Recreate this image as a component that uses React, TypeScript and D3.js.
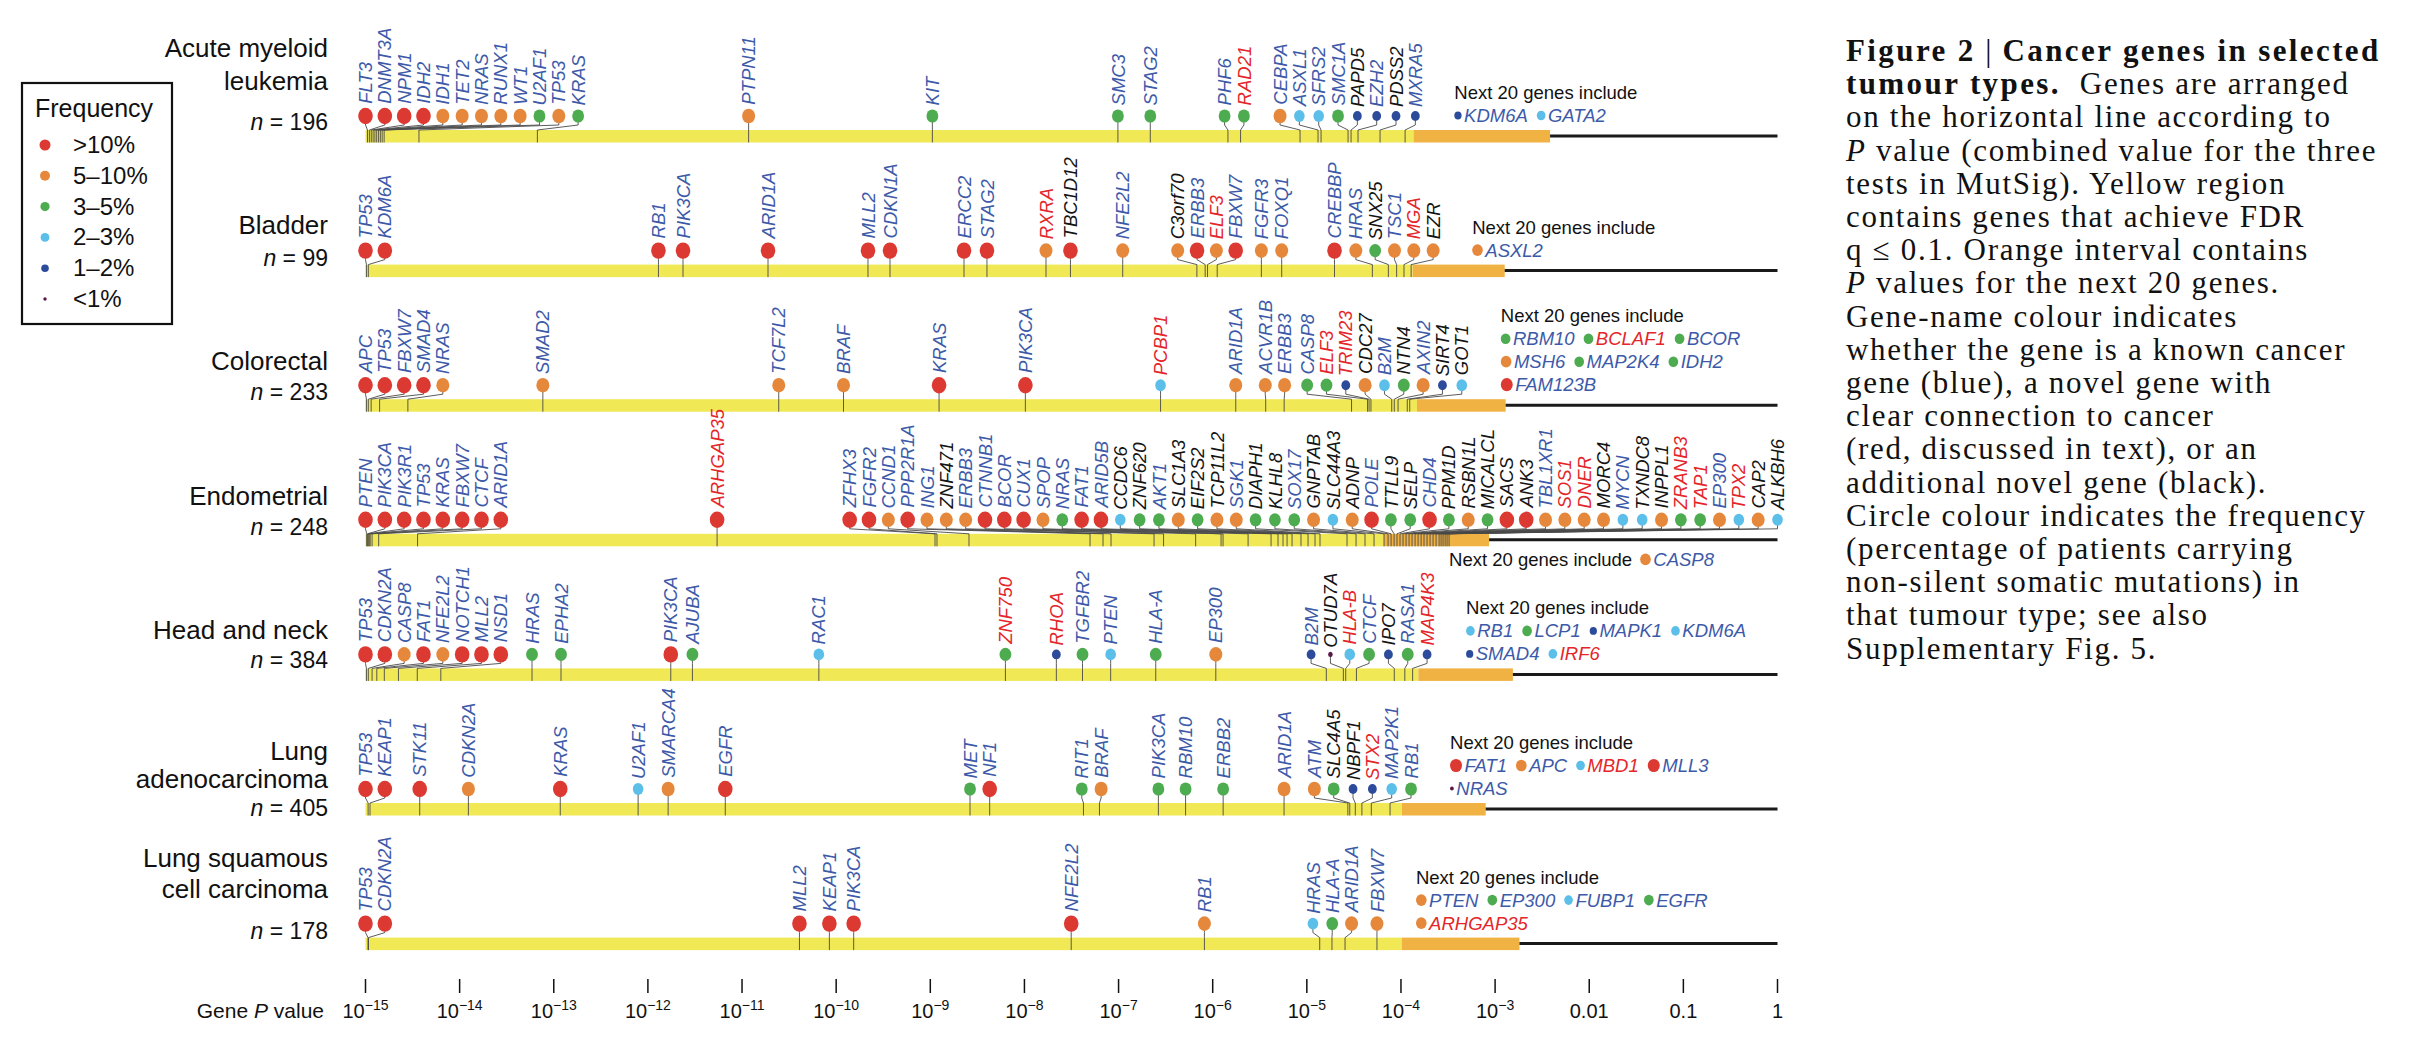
import React from "react";
import * as d3 from "d3";

// ---------------- DATA ----------------
// gene: [name, log10 P, frequency class, name colour]
// frequency class: 5 >10%, 4 5–10%, 3 3–5%, 2 2–3%, 1 1–2%, 0 <1%
// name colour: b known cancer gene, r novel (discussed), k additional novel
type Gene = [string, number, number, string];
type Extra = [string, number, string];

const amlGenes: Gene[] = [
  ["FLT3", -14.979, 5, "b"], ["DNMT3A", -14.959, 5, "b"], ["NPM1", -14.939, 5, "b"],
  ["IDH2", -14.919, 5, "b"], ["IDH1", -14.9, 4, "b"], ["TET2", -14.881, 4, "b"],
  ["NRAS", -14.861, 4, "b"], ["RUNX1", -14.842, 4, "b"], ["WT1", -14.823, 4, "b"],
  ["U2AF1", -14.802, 3, "b"], ["TP53", -14.432, 4, "b"], ["KRAS", -13.174, 3, "b"],
  ["PTPN11", -10.93, 4, "b"], ["KIT", -8.978, 3, "b"], ["SMC3", -7.007, 3, "b"],
  ["STAG2", -6.663, 3, "b"], ["PHF6", -5.838, 3, "b"], ["RAD21", -5.704, 3, "r"],
  ["CEBPA", -5.072, 4, "b"], ["ASXL1", -4.881, 2, "b"], ["SFRS2", -4.849, 2, "b"],
  ["SMC1A", -4.562, 3, "b"], ["PAPD5", -4.53, 1, "k"], ["EZH2", -4.456, 1, "b"],
  ["PDSS2", -4.222, 1, "k"], ["MXRA5", -3.956, 1, "b"],
];

const bladderGenes: Gene[] = [
  ["TP53", -14.99, 5, "b"], ["KDM6A", -14.97, 5, "b"], ["RB1", -11.888, 5, "b"],
  ["PIK3CA", -11.627, 5, "b"], ["ARID1A", -10.724, 5, "b"], ["MLL2", -9.662, 5, "b"],
  ["CDKN1A", -9.428, 5, "b"], ["ERCC2", -8.642, 5, "b"], ["STAG2", -8.398, 5, "b"],
  ["RXRA", -7.771, 4, "r"], ["TBC1D12", -7.511, 5, "k"], ["NFE2L2", -6.956, 4, "b"],
  ["C3orf70", -6.168, 4, "k"], ["ERBB3", -6.08, 5, "b"], ["ELF3", -6.055, 4, "r"],
  ["FBXW7", -5.952, 5, "b"], ["FGFR3", -5.483, 4, "b"], ["FOXQ1", -5.267, 4, "b"],
  ["CREBBP", -4.706, 5, "b"], ["HRAS", -4.304, 4, "b"], ["SNX25", -4.134, 3, "k"],
  ["TSC1", -4.046, 4, "b"], ["MGA", -3.968, 4, "r"], ["EZR", -3.892, 4, "k"],
];

const colorectalGenes: Gene[] = [
  ["APC", -14.99, 5, "b"], ["TP53", -14.97, 5, "b"], ["FBXW7", -14.94, 5, "b"],
  ["SMAD4", -14.85, 5, "b"], ["NRAS", -14.55, 4, "b"], ["SMAD2", -13.116, 4, "b"],
  ["TCF7L2", -10.61, 4, "b"], ["BRAF", -9.922, 4, "b"], ["KRAS", -8.907, 5, "b"],
  ["PIK3CA", -7.99, 5, "b"], ["PCBP1", -6.554, 2, "r"], ["ARID1A", -5.755, 4, "b"],
  ["ACVR1B", -5.437, 4, "b"], ["ERBB3", -5.241, 4, "b"], ["CASP8", -4.525, 3, "b"],
  ["ELF3", -4.355, 3, "r"], ["TRIM23", -4.339, 1, "r"], ["CDC27", -4.319, 4, "k"],
  ["B2M", -4.098, 2, "b"], ["NTN4", -4.071, 3, "k"], ["AXIN2", -4.031, 4, "b"],
  ["SIRT4", -3.933, 1, "k"], ["GOT1", -3.907, 2, "k"],
];

const endometrialGenes: Gene[] = [
  ["PTEN", -14.987, 5, "b"], ["PIK3CA", -14.98, 5, "b"], ["PIK3R1", -14.97, 5, "b"],
  ["TP53", -14.96, 5, "b"], ["KRAS", -14.95, 5, "b"], ["FBXW7", -14.93, 5, "b"],
  ["CTCF", -14.86, 5, "b"], ["ARID1A", -14.447, 5, "b"], ["ARHGAP35", -11.265, 5, "r"],
  ["ZFHX3", -8.95, 5, "b"], ["FGFR2", -8.929, 5, "b"], ["CCND1", -8.589, 4, "b"],
  ["PPP2R1A", -7.303, 5, "b"], ["ING1", -7.165, 4, "b"], ["ZNF471", -7.08, 4, "k"],
  ["ERBB3", -6.623, 4, "b"], ["CTNNB1", -6.522, 5, "b"], ["BCOR", -6.181, 5, "b"],
  ["CUX1", -5.911, 5, "b"], ["SPOP", -5.89, 4, "b"], ["NRAS", -5.624, 3, "b"],
  ["FAT1", -5.38, 5, "b"], ["ARID5B", -5.306, 5, "b"], ["CCDC6", -5.253, 2, "k"],
  ["ZNF620", -5.21, 3, "k"], ["AKT1", -5.157, 3, "b"], ["SLC1A3", -5.062, 4, "k"],
  ["EIF2S2", -4.987, 3, "k"], ["TCP11L2", -4.913, 4, "k"], ["SGK1", -4.86, 4, "b"],
  ["DIAPH1", -4.573, 3, "k"], ["KLHL8", -4.477, 3, "k"], ["SOX17", -4.382, 3, "b"],
  ["GNPTAB", -4.286, 4, "k"], ["SLC44A3", -4.18, 2, "k"], ["ADNP", -4.137, 4, "k"],
  ["POLE", -4.105, 5, "b"], ["TTLL9", -4.073, 3, "k"], ["SELP", -4.042, 3, "k"],
  ["CHD4", -4.01, 5, "b"], ["PPM1D", -3.978, 3, "k"], ["RSBN1L", -3.946, 4, "k"],
  ["MICALCL", -3.914, 3, "k"], ["SACS", -3.882, 5, "k"], ["ANK3", -3.85, 5, "k"],
  ["TBL1XR1", -3.818, 4, "b"], ["SOS1", -3.786, 4, "r"], ["DNER", -3.755, 4, "r"],
  ["MORC4", -3.723, 4, "k"], ["MYCN", -3.691, 2, "b"], ["TXNDC8", -3.659, 2, "k"],
  ["INPPL1", -3.627, 4, "k"], ["ZRANB3", -3.595, 3, "r"], ["TAP1", -3.574, 3, "r"],
  ["EP300", -3.553, 4, "b"], ["TPX2", -3.531, 2, "r"], ["CAP2", -3.51, 4, "k"],
  ["ALKBH6", -3.489, 2, "k"],
];

const headNeckGenes: Gene[] = [
  ["TP53", -14.99, 5, "b"], ["CDKN2A", -14.97, 5, "b"], ["CASP8", -14.93, 4, "b"],
  ["FAT1", -14.88, 5, "b"], ["NFE2L2", -14.8, 4, "b"], ["NOTCH1", -14.65, 5, "b"],
  ["MLL2", -14.45, 5, "b"], ["NSD1", -14.2, 5, "b"], ["HRAS", -13.231, 3, "b"],
  ["EPHA2", -12.923, 3, "b"], ["PIK3CA", -11.757, 5, "b"], ["AJUBA", -11.527, 3, "b"],
  ["RAC1", -10.184, 2, "b"], ["ZNF750", -8.202, 3, "r"], ["RHOA", -7.661, 1, "r"],
  ["TGFBR2", -7.383, 3, "b"], ["PTEN", -7.084, 2, "b"], ["HLA-A", -6.605, 3, "b"],
  ["EP300", -5.967, 4, "b"], ["B2M", -4.793, 1, "b"], ["OTUD7A", -4.612, 0, "k"],
  ["HLA-B", -4.587, 2, "r"], ["CTCF", -4.473, 3, "b"], ["IPO7", -4.071, 1, "k"],
  ["RASA1", -3.959, 3, "b"], ["MAP4K3", -3.876, 1, "r"],
];

const lungAdenoGenes: Gene[] = [
  ["TP53", -14.972, 5, "b"], ["KEAP1", -14.952, 5, "b"], ["STK11", -14.424, 5, "b"],
  ["CDKN2A", -13.907, 4, "b"], ["KRAS", -12.931, 5, "b"], ["U2AF1", -12.104, 2, "b"],
  ["SMARCA4", -11.785, 4, "b"], ["EGFR", -11.178, 5, "b"], ["MET", -8.578, 3, "b"],
  ["NF1", -8.369, 5, "b"], ["RIT1", -7.373, 3, "b"], ["BRAF", -7.203, 4, "b"],
  ["PIK3CA", -6.577, 3, "b"], ["RBM10", -6.288, 3, "b"], ["ERBB2", -5.889, 3, "b"],
  ["ARID1A", -5.242, 4, "b"], ["ATM", -4.564, 4, "b"], ["SLC4A5", -4.544, 3, "k"],
  ["NBPF1", -4.485, 1, "k"], ["STX2", -4.415, 1, "r"], ["MAP2K1", -4.315, 2, "b"],
  ["RB1", -4.116, 3, "b"],
];

const lungSquamousGenes: Gene[] = [
  ["TP53", -14.973, 5, "b"], ["CDKN2A", -14.968, 5, "b"], ["MLL2", -10.39, 5, "b"],
  ["KEAP1", -10.072, 5, "b"], ["PIK3CA", -9.814, 5, "b"], ["NFE2L2", -7.503, 5, "b"],
  ["RB1", -6.088, 4, "b"], ["HRAS", -4.863, 2, "b"], ["HLA-A", -4.733, 3, "b"],
  ["ARID1A", -4.594, 4, "b"], ["FBXW7", -4.255, 4, "b"],
];

const tumourNames: string[][] = [
  ["Acute myeloid", "leukemia"], ["Bladder"], ["Colorectal"], ["Endometrial"],
  ["Head and neck"], ["Lung", "adenocarcinoma"], ["Lung squamous", "cell carcinoma"],
];
const tumourN = [196, 99, 233, 248, 384, 405, 178];
const fdrLogP = [-3.866, -3.876, -3.83, -4.18, -3.815, -3.989, -3.989];
const next20LogP = [-2.416, -2.898, -2.888, -3.064, -2.811, -3.1, -2.741];

const amlNext: Extra[][] = [[["KDM6A", 1, "b"], ["GATA2", 2, "b"]]];
const bladderNext: Extra[][] = [[["ASXL2", 4, "b"]]];
const colorectalNext: Extra[][] = [
  [["RBM10", 3, "b"], ["BCLAF1", 3, "r"], ["BCOR", 3, "b"]],
  [["MSH6", 4, "b"], ["MAP2K4", 3, "b"], ["IDH2", 3, "b"]],
  [["FAM123B", 5, "b"]],
];
const endometrialNext: Extra[][] = [[["CASP8", 4, "b"]]];
const headNeckNext: Extra[][] = [
  [["RB1", 2, "b"], ["LCP1", 3, "b"], ["MAPK1", 1, "b"], ["KDM6A", 2, "b"]],
  [["SMAD4", 1, "b"], ["IRF6", 2, "r"]],
];
const lungAdenoNext: Extra[][] = [
  [["FAT1", 5, "b"], ["APC", 4, "b"], ["MBD1", 2, "r"], ["MLL3", 5, "b"]],
  [["NRAS", 0, "b"]],
];
const lungSquamousNext: Extra[][] = [
  [["PTEN", 4, "b"], ["EP300", 3, "b"], ["FUBP1", 2, "b"], ["EGFR", 3, "b"]],
  [["ARHGAP35", 4, "r"]],
];

const legendLabels = [">10%", "5–10%", "3–5%", "2–3%", "1–2%", "<1%"];
const legendClasses = [5, 4, 3, 2, 1, 0];
const tickExponents = d3.range(-15, 1);

const captionLines: [string, string][][] = [
  [["Figure 2", "b"], [" | ", "n"], ["Cancer genes in selected", "b"]],
  [["tumour types.", "b"], ["  Genes are arranged", "n"]],
  [["on the horizontal line according to", "n"]],
  [["P", "i"], [" value (combined value for the three", "n"]],
  [["tests in MutSig). Yellow region", "n"]],
  [["contains genes that achieve FDR", "n"]],
  [["q ≤ 0.1. Orange interval contains", "n"]],
  [["P", "i"], [" values for the next 20 genes.", "n"]],
  [["Gene-name colour indicates", "n"]],
  [["whether the gene is a known cancer", "n"]],
  [["gene (blue), a novel gene with", "n"]],
  [["clear connection to cancer", "n"]],
  [["(red, discussed in text), or an", "n"]],
  [["additional novel gene (black).", "n"]],
  [["Circle colour indicates the frequency", "n"]],
  [["(percentage of patients carrying", "n"]],
  [["non-silent somatic mutations) in", "n"]],
  [["that tumour type; see also", "n"]],
  [["Supplementary Fig. 5.", "n"]],
];

// ---------------- STYLE / LAYOUT ----------------
const rowGenes = [amlGenes, bladderGenes, colorectalGenes, endometrialGenes, headNeckGenes, lungAdenoGenes, lungSquamousGenes];
const rowNext = [amlNext, bladderNext, colorectalNext, endometrialNext, headNeckNext, lungAdenoNext, lungSquamousNext];
const titleOffsets = [[-73, -40, 0], [-31, 1], [-29, 1], [-29, 1], [-29, 0], [-43, -15, 13], [-71, -40, 1]];

const W = 2418, H = 1040;
const X0 = 365.5, X1 = 1777.5;
const BAR0 = 130, STEP = 134.6, BAR_H = 12.5;
const GAP = 19.33;
const SANS = "'Liberation Sans', Arial, Helvetica, sans-serif";
const SERIF = "'Liberation Serif', 'Times New Roman', serif";
const freqFill = ["#5a1846", "#2d4b9b", "#5bbfe9", "#4dab50", "#e6883b", "#dc3932"];
const freqR = [2.3, 4.4, 5.3, 5.9, 6.5, 7.3];
const legendR = [1.7, 3.8, 4.4, 4.6, 5.0, 5.5];
const nameFill: Record<string, string> = { b: "#3d5aa9", r: "#e4262a", k: "#141414" };
const YELLOW = "#f0e854", ORANGE = "#f0b242";
const LABEL_FS = 18.5;

const x = d3.scaleLog().domain([1e-15, 1]).range([X0, X1]);

let _ctx: CanvasRenderingContext2D | null = null;
function textWidth(s: string, font: string): number {
  if (!_ctx) _ctx = document.createElement("canvas").getContext("2d");
  if (!_ctx) return s.length * 10;
  _ctx.font = font;
  return _ctx.measureText(s).width;
}

// centred-cluster label placement (clusters merge when circles would overlap)
function place(xs: number[], gap: number, lo: number, hi: number): number[] {
  type C = { i0: number; n: number; sum: number; pos: number };
  const setPos = (c: C) => {
    let s = c.sum / c.n - ((c.n - 1) * gap) / 2;
    s = Math.max(lo, Math.min(hi - (c.n - 1) * gap, s));
    c.pos = s;
  };
  const cl: C[] = xs.map((v, i) => ({ i0: i, n: 1, sum: v, pos: v }));
  cl.forEach(setPos);
  let merged = true;
  while (merged) {
    merged = false;
    for (let k = 0; k < cl.length - 1; k++) {
      const a = cl[k], b = cl[k + 1];
      if (a.pos + a.n * gap > b.pos + 0.01) {
        a.n += b.n; a.sum += b.sum; setPos(a); cl.splice(k + 1, 1); merged = true; break;
      }
    }
  }
  const out: number[] = new Array(xs.length);
  cl.forEach((c) => { for (let j = 0; j < c.n; j++) out[c.i0 + j] = c.pos + j * gap; });
  return out;
}

function ExtraLine({ x0, y, items }: { x0: number; y: number; items: Extra[] }) {
  const font = `italic ${LABEL_FS}px 'Liberation Sans'`;
  let cur = x0;
  const els: React.ReactNode[] = [];
  items.forEach(([name, f, c], k) => {
    const r = freqR[f] * 0.82;
    const dx = cur + r;
    const lx = dx + r + 2.5;
    els.push(<ellipse key={"d" + k} cx={dx} cy={y - 6.5} rx={r} ry={r * 1.1} fill={freqFill[f]} />);
    els.push(
      <text key={"t" + k} x={lx} y={y} fontStyle="italic" fontSize={LABEL_FS} fill={nameFill[c]}>{name}</text>
    );
    cur = lx + textWidth(name, font) + 9;
  });
  return <g>{els}</g>;
}

function Row({ i }: { i: number }) {
  const top = BAR0 + i * STEP;
  const genes = rowGenes[i];
  const ax = genes.map((g) => x(Math.pow(10, g[1])));
  const cxs = place(ax, GAP, X0, X1);
  const cy = top - 14;
  const bend = top - 5;
  const xf = x(Math.pow(10, fdrLogP[i]));
  const xn = x(Math.pow(10, next20LogP[i]));
  const names = tumourNames[i];
  const offs = titleOffsets[i];
  const next = rowNext[i];
  const lastCx = cxs[cxs.length - 1];
  const isEndo = i === 3;
  const nx0 = isEndo ? ax[ax.length - 1] : lastCx + 39;
  const titleY = isEndo ? top + 32 : top - 8 - 23 * next.length;
  const titleTxt = "Next 20 genes include";
  const titleW = textWidth(titleTxt, `${LABEL_FS}px 'Liberation Sans'`);
  return (
    <g>
      {names.map((s, k) => (
        <text key={"n" + k} x={328} y={top + offs[k]} textAnchor="end" fontSize={26} fill="#111">{s}</text>
      ))}
      <text x={328} y={top + offs[names.length]} textAnchor="end" fontSize={23} fill="#111" style={{ whiteSpace: "pre" }}>
        <tspan fontStyle="italic">n</tspan>{` = ${tumourN[i]}`}
      </text>
      <rect x={X0} y={top} width={xf - X0} height={BAR_H} fill={YELLOW} />
      <rect x={xf} y={top} width={xn - xf} height={BAR_H} fill={ORANGE} />
      <line x1={xn} x2={X1} y1={top + 6} y2={top + 6} stroke="#1a1a1a" strokeWidth={3} />
      {genes.map((g, k) => (
        <path key={"l" + k} d={`M${cxs[k]},${cy}L${cxs[k]},${bend}L${ax[k]},${top}L${ax[k]},${top + BAR_H}`}
          fill="none" stroke="#4a4a4a" strokeWidth={0.9} />
      ))}
      {genes.map((g, k) => {
        const r = freqR[g[2]];
        return <ellipse key={"c" + k} cx={cxs[k]} cy={cy} rx={r} ry={r * 1.12} fill={freqFill[g[2]]} />;
      })}
      {genes.map((g, k) => {
        const r = freqR[g[2]] * 1.12;
        return (
          <text key={"t" + k} transform={`translate(${cxs[k] + 6.6},${cy - r - 4}) rotate(-90)`}
            fontStyle="italic" fontSize={LABEL_FS} fill={nameFill[g[3]]}>{g[0]}</text>
        );
      })}
      <text x={nx0} y={titleY} fontSize={LABEL_FS} fill="#111">{titleTxt}</text>
      {isEndo ? (
        <ExtraLine x0={nx0 + titleW + 8} y={titleY} items={next[0]} />
      ) : (
        next.map((items, k) => <ExtraLine key={k} x0={nx0} y={titleY + 23 * (k + 1)} items={items} />)
      )}
    </g>
  );
}

function Legend() {
  return (
    <g>
      <rect x={22} y={83} width={150} height={241} fill="none" stroke="#111" strokeWidth={2.2} />
      <text x={35} y={117} fontSize={25} fill="#111">Frequency</text>
      {legendLabels.map((s, k) => {
        const yc = 145 + k * 30.8;
        const f = legendClasses[k];
        return (
          <g key={k}>
            <circle cx={45} cy={yc} r={legendR[f]} fill={freqFill[f]} />
            <text x={73} y={yc + 8} fontSize={24} fill="#111">{s}</text>
          </g>
        );
      })}
    </g>
  );
}

function Axis() {
  return (
    <g>
      <text x={324} y={1018} textAnchor="end" fontSize={21} fill="#111" style={{ whiteSpace: "pre" }}>
        {"Gene "}<tspan fontStyle="italic">P</tspan>{" value"}
      </text>
      {tickExponents.map((e) => {
        const xv = x(Math.pow(10, e));
        return (
          <g key={e}>
            <line x1={xv} x2={xv} y1={979} y2={993} stroke="#111" strokeWidth={1.5} />
            {e <= -3 ? (
              <text x={xv} y={1018} textAnchor="middle" fontSize={20} fill="#111">
                10<tspan dy={-8} fontSize={14}>{"−" + Math.abs(e)}</tspan>
              </text>
            ) : (
              <text x={xv} y={1018} textAnchor="middle" fontSize={20} fill="#111">
                {e === -2 ? "0.01" : e === -1 ? "0.1" : "1"}
              </text>
            )}
          </g>
        );
      })}
    </g>
  );
}

function Caption() {
  return (
    <g fontFamily={SERIF} fontSize={31} fill="#111">
      {captionLines.map((segs, i) => (
        <text key={i} x={1846} y={61 + i * 33.2} style={{ whiteSpace: "pre" }}>
          {segs.map(([s, st], k) => (
            <tspan key={k} fontWeight={st === "b" ? "bold" : "normal"} fontStyle={st === "i" ? "italic" : "normal"}
              letterSpacing={st === "b" ? 2.4 : 1.7}>{s}</tspan>
          ))}
        </text>
      ))}
    </g>
  );
}

export default function App() {
  return (
    <div style={{ position: "absolute", left: 0, top: 0, width: W, height: H, background: "#fff" }}>
      <svg width={W} height={H} viewBox={`0 0 ${W} ${H}`} fontFamily={SANS} style={{ display: "block" }}>
        <rect x={0} y={0} width={W} height={H} fill="#fff" />
        <Legend />
        {rowGenes.map((_, i) => <Row key={i} i={i} />)}
        <Axis />
        <Caption />
      </svg>
    </div>
  );
}
